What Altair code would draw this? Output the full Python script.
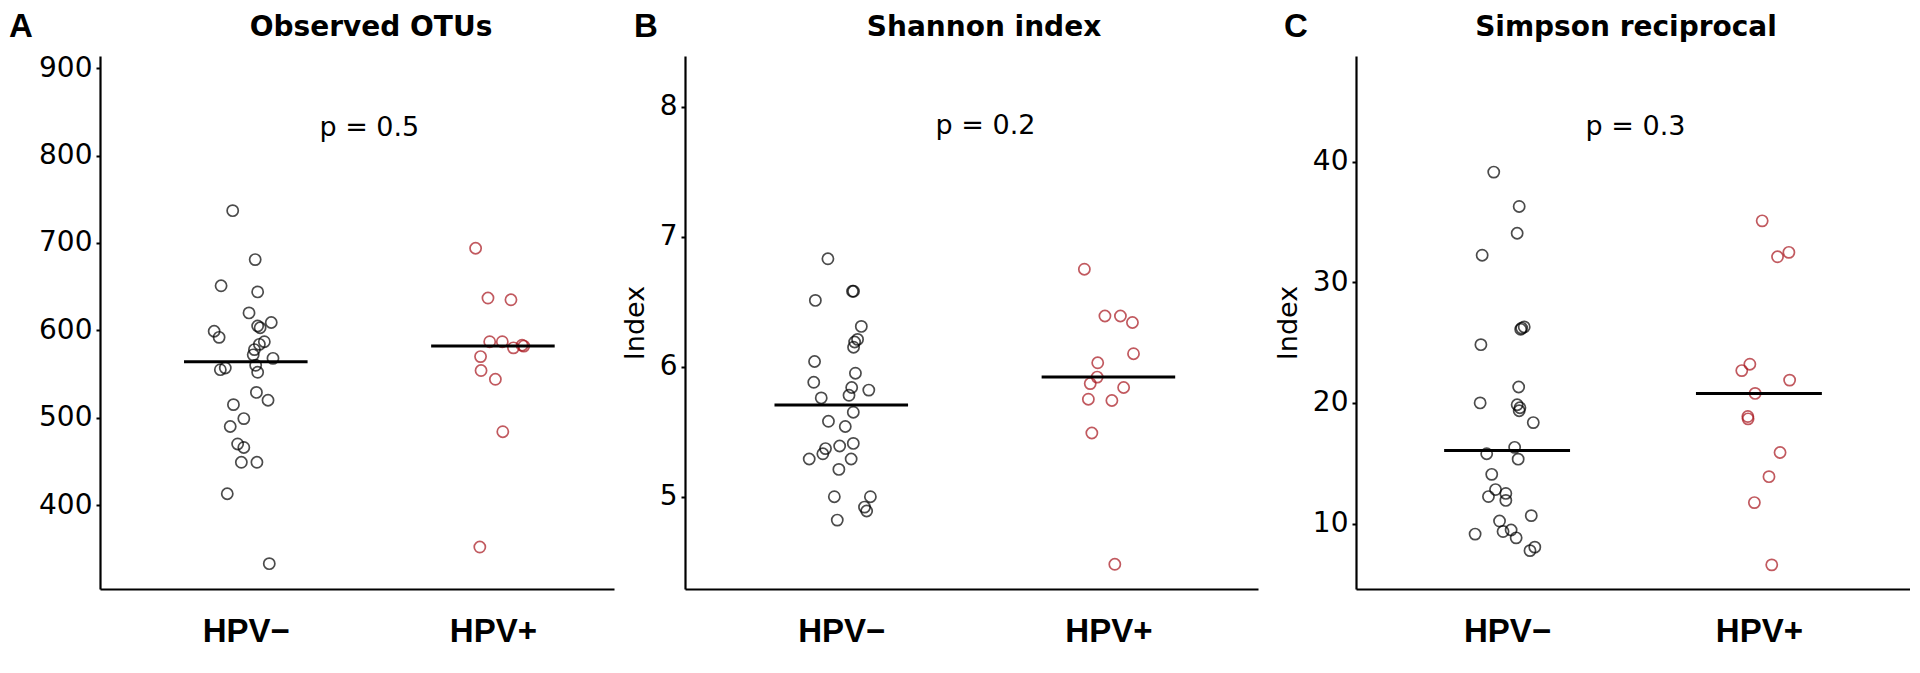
import altair as alt
import pandas as pd

GROUPS = ["HPV−", "HPV+"]
COLORS = ["#000000", "#A8141C"]

TITLES = ["Observed OTUs", "Shannon index", "Simpson reciprocal"]
LETTERS = ["A", "B", "C"]
P_LABELS = ["p = 0.5", "p = 0.2", "p = 0.3"]

# Observed OTUs
OTU_NEG = [737, 681, 651, 644, 620, 609, 605, 603, 599, 592, 587, 584, 578, 572, 568,
           560, 557, 555, 552, 529, 520, 515, 499, 490, 470, 466, 449, 449, 413, 333]
OTU_NEG_JIT = [-0.053, 0.038, -0.10, 0.048, 0.013, 0.103, 0.048, 0.058, -0.128, -0.108, 0.075, 0.055, 0.035, 0.03, 0.11,
               0.04, -0.083, -0.103, 0.048, 0.043, 0.09, -0.05, -0.008, -0.063, -0.033, -0.008, -0.018, 0.045, -0.075, 0.095]
OTU_POS = [694, 637, 635, 587, 587, 580, 583, 582, 570, 554, 544, 484, 352]
OTU_POS_JIT = [-0.07, -0.02, 0.073, -0.013, 0.038, 0.083, 0.118, 0.125, -0.05, -0.048, 0.01, 0.04, -0.053]

# Shannon index
SHA_NEG = [6.83, 6.58, 6.58, 6.51, 6.31, 6.21, 6.19, 6.15, 6.04, 5.95, 5.88, 5.84, 5.82, 5.76, 5.78,
           5.65, 5.58, 5.54, 5.37, 5.33, 5.39, 5.41, 5.29, 5.29, 5.21, 5.00, 5.00, 4.92, 4.89, 4.82]
SHA_NEG_JIT = [-0.05, 0.042, 0.046, -0.097, 0.075, 0.061, 0.05, 0.046, -0.10, 0.053, -0.103, 0.039, 0.103, -0.075, 0.029,
               0.045, -0.048, 0.015, -0.059, -0.069, -0.006, 0.045, -0.12, 0.037, -0.009, -0.026, 0.109, 0.087, 0.095, -0.015]
SHA_POS = [6.75, 6.39, 6.39, 6.34, 6.10, 6.03, 5.92, 5.87, 5.84, 5.75, 5.74, 5.49, 4.48]
SHA_POS_JIT = [-0.09, -0.013, 0.045, 0.09, 0.094, -0.04, -0.042, -0.068, 0.057, -0.075, 0.013, -0.062, 0.024]

# Simpson reciprocal
SIM_NEG = [39.13, 36.28, 34.06, 32.24, 26.3, 26.2, 26.1, 24.83, 21.32, 20.0, 19.85, 19.6, 19.35, 18.37, 16.32,
           15.79, 15.34, 14.08, 12.82, 12.50, 12.24, 11.92, 10.66, 10.21, 9.47, 9.34, 8.82, 9.13, 8.05, 7.76]
SIM_NEG_JIT = [-0.053, 0.048, 0.04, -0.099, 0.068, 0.058, 0.054, -0.104, 0.046, -0.107, 0.04, 0.051, 0.048, 0.104, 0.03,
               -0.081, 0.044, -0.061, -0.046, -0.005, -0.074, -0.005, 0.096, -0.03, 0.016, -0.016, 0.036, -0.127, 0.11, 0.091]
SIM_POS = [35.09, 32.11, 32.48, 23.21, 22.68, 21.89, 20.79, 18.87, 18.68, 15.89, 13.89, 11.74, 6.58]
SIM_POS_JIT = [0.013, 0.074, 0.119, -0.036, -0.068, 0.122, -0.015, -0.044, -0.043, 0.084, 0.04, -0.018, 0.051]

Y_TICKS = [[400, 500, 600, 700, 800, 900], [5, 6, 7, 8], [10, 20, 30, 40]]
Y_DOMAINS = [[304, 914], [4.29, 8.39], [4.58, 48.75]]
X_DOMAINS = [[0.41, 2.49], [0.415, 2.56], [0.4, 2.6]]
P_POS = [[1.5, 822], [1.54, 7.79], [1.51, 42.2]]
Y_TITLES = [None, "Index", "Index"]

WIDTHS = [514, 573, 554]
HEIGHT = 533
TITLE_X = [271, 299, 270]
LETTER_X = [-91, -51, -72]
LEFT_EXT = [-91, -70, -97]

SANS = "DejaVu Sans"
ARIAL = "Liberation Sans"


def panel(i, neg, negj, pos, posj):
    df = pd.DataFrame({
        "g": [1] * len(neg) + [2] * len(pos),
        "jit": negj + posj,
        "v": neg + pos,
        "grp": [GROUPS[0]] * len(neg) + [GROUPS[1]] * len(pos),
    })
    xscale = alt.Scale(domain=X_DOMAINS[i], nice=False, zero=False)
    yscale = alt.Scale(domain=Y_DOMAINS[i], nice=False, zero=False)
    yaxis_kwargs = dict(values=Y_TICKS[i], format="d", grid=False, domainColor="black", domainWidth=2.2,
                        tickColor="black", tickWidth=2, tickSize=4, labelPadding=4,
                        labelFont=SANS, labelFontSize=28, labelColor="black")
    if Y_TITLES[i]:
        yaxis = alt.Axis(title=Y_TITLES[i], titleFont=SANS, titleFontSize=27, titleFontWeight="normal",
                         titleColor="black", titlePadding=10, **yaxis_kwargs)
    else:
        yaxis = alt.Axis(title=None, **yaxis_kwargs)
    xaxis = alt.Axis(values=[1, 2], title=None, grid=False, domainColor="black", domainWidth=2.2,
                     ticks=False, labelPadding=26, labelFont=ARIAL, labelFontSize=33,
                     labelFontWeight="bold", labelColor="black",
                     labelExpr=f"datum.value == 1 ? '{GROUPS[0]}' : '{GROUPS[1]}'")

    base = alt.Chart(df)
    points = base.transform_calculate(xp="datum.g + datum.jit").mark_point(
        shape="circle", filled=False, size=125, strokeWidth=1.7
    ).encode(
        x=alt.X("xp:Q", scale=xscale, axis=xaxis),
        y=alt.Y("v:Q", scale=yscale, axis=yaxis),
        color=alt.Color("grp:N", scale=alt.Scale(domain=GROUPS, range=COLORS), legend=None),
    )
    medians = base.transform_aggregate(
        med="median(v)", groupby=["g"]
    ).transform_calculate(
        x1="datum.g - 0.25", x2="datum.g + 0.25"
    ).mark_rule(color="black", strokeWidth=3).encode(
        x=alt.X("x1:Q", scale=xscale),
        x2="x2:Q",
        y=alt.Y("med:Q", scale=yscale),
    )
    ptxt = alt.Chart(pd.DataFrame({"x": [P_POS[i][0]], "y": [P_POS[i][1]], "t": [P_LABELS[i]]})).mark_text(
        font=SANS, fontSize=27, color="black", align="center", baseline="alphabetic"
    ).encode(x=alt.X("x:Q", scale=xscale), y=alt.Y("y:Q", scale=yscale), text="t:N")
    ttl = alt.Chart(pd.DataFrame({"t": [TITLES[i]]})).mark_text(
        font=SANS, fontSize=28, fontWeight="bold", color="black", align="center", baseline="alphabetic"
    ).encode(x=alt.value(TITLE_X[i]), y=alt.value(-20), text="t:N")
    letter = alt.Chart(pd.DataFrame({"t": [LETTERS[i]]})).mark_text(
        font=ARIAL, fontSize=33, fontWeight="bold", color="black", align="left", baseline="alphabetic"
    ).encode(x=alt.value(LETTER_X[i]), y=alt.value(-19), text="t:N")
    guide = alt.Chart(pd.DataFrame({"d": [0]})).mark_rule(color="white", strokeWidth=1).encode(
        x=alt.value(LEFT_EXT[i]), x2=alt.value(LEFT_EXT[i]), y=alt.value(-47), y2=alt.value(-40)
    )
    return alt.layer(guide, points, medians, ptxt, ttl, letter).properties(width=WIDTHS[i], height=HEIGHT)


pA = panel(0, OTU_NEG, OTU_NEG_JIT, OTU_POS, OTU_POS_JIT)
pB = panel(1, SHA_NEG, SHA_NEG_JIT, SHA_POS, SHA_POS_JIT)
pC = panel(2, SIM_NEG, SIM_NEG_JIT, SIM_POS, SIM_POS_JIT)

chart = alt.hconcat(pA, pB, pC, spacing=0).properties(padding=0).configure_view(stroke=None)

chart.save("out.html", embed_options={"renderer": "svg", "actions": False})
